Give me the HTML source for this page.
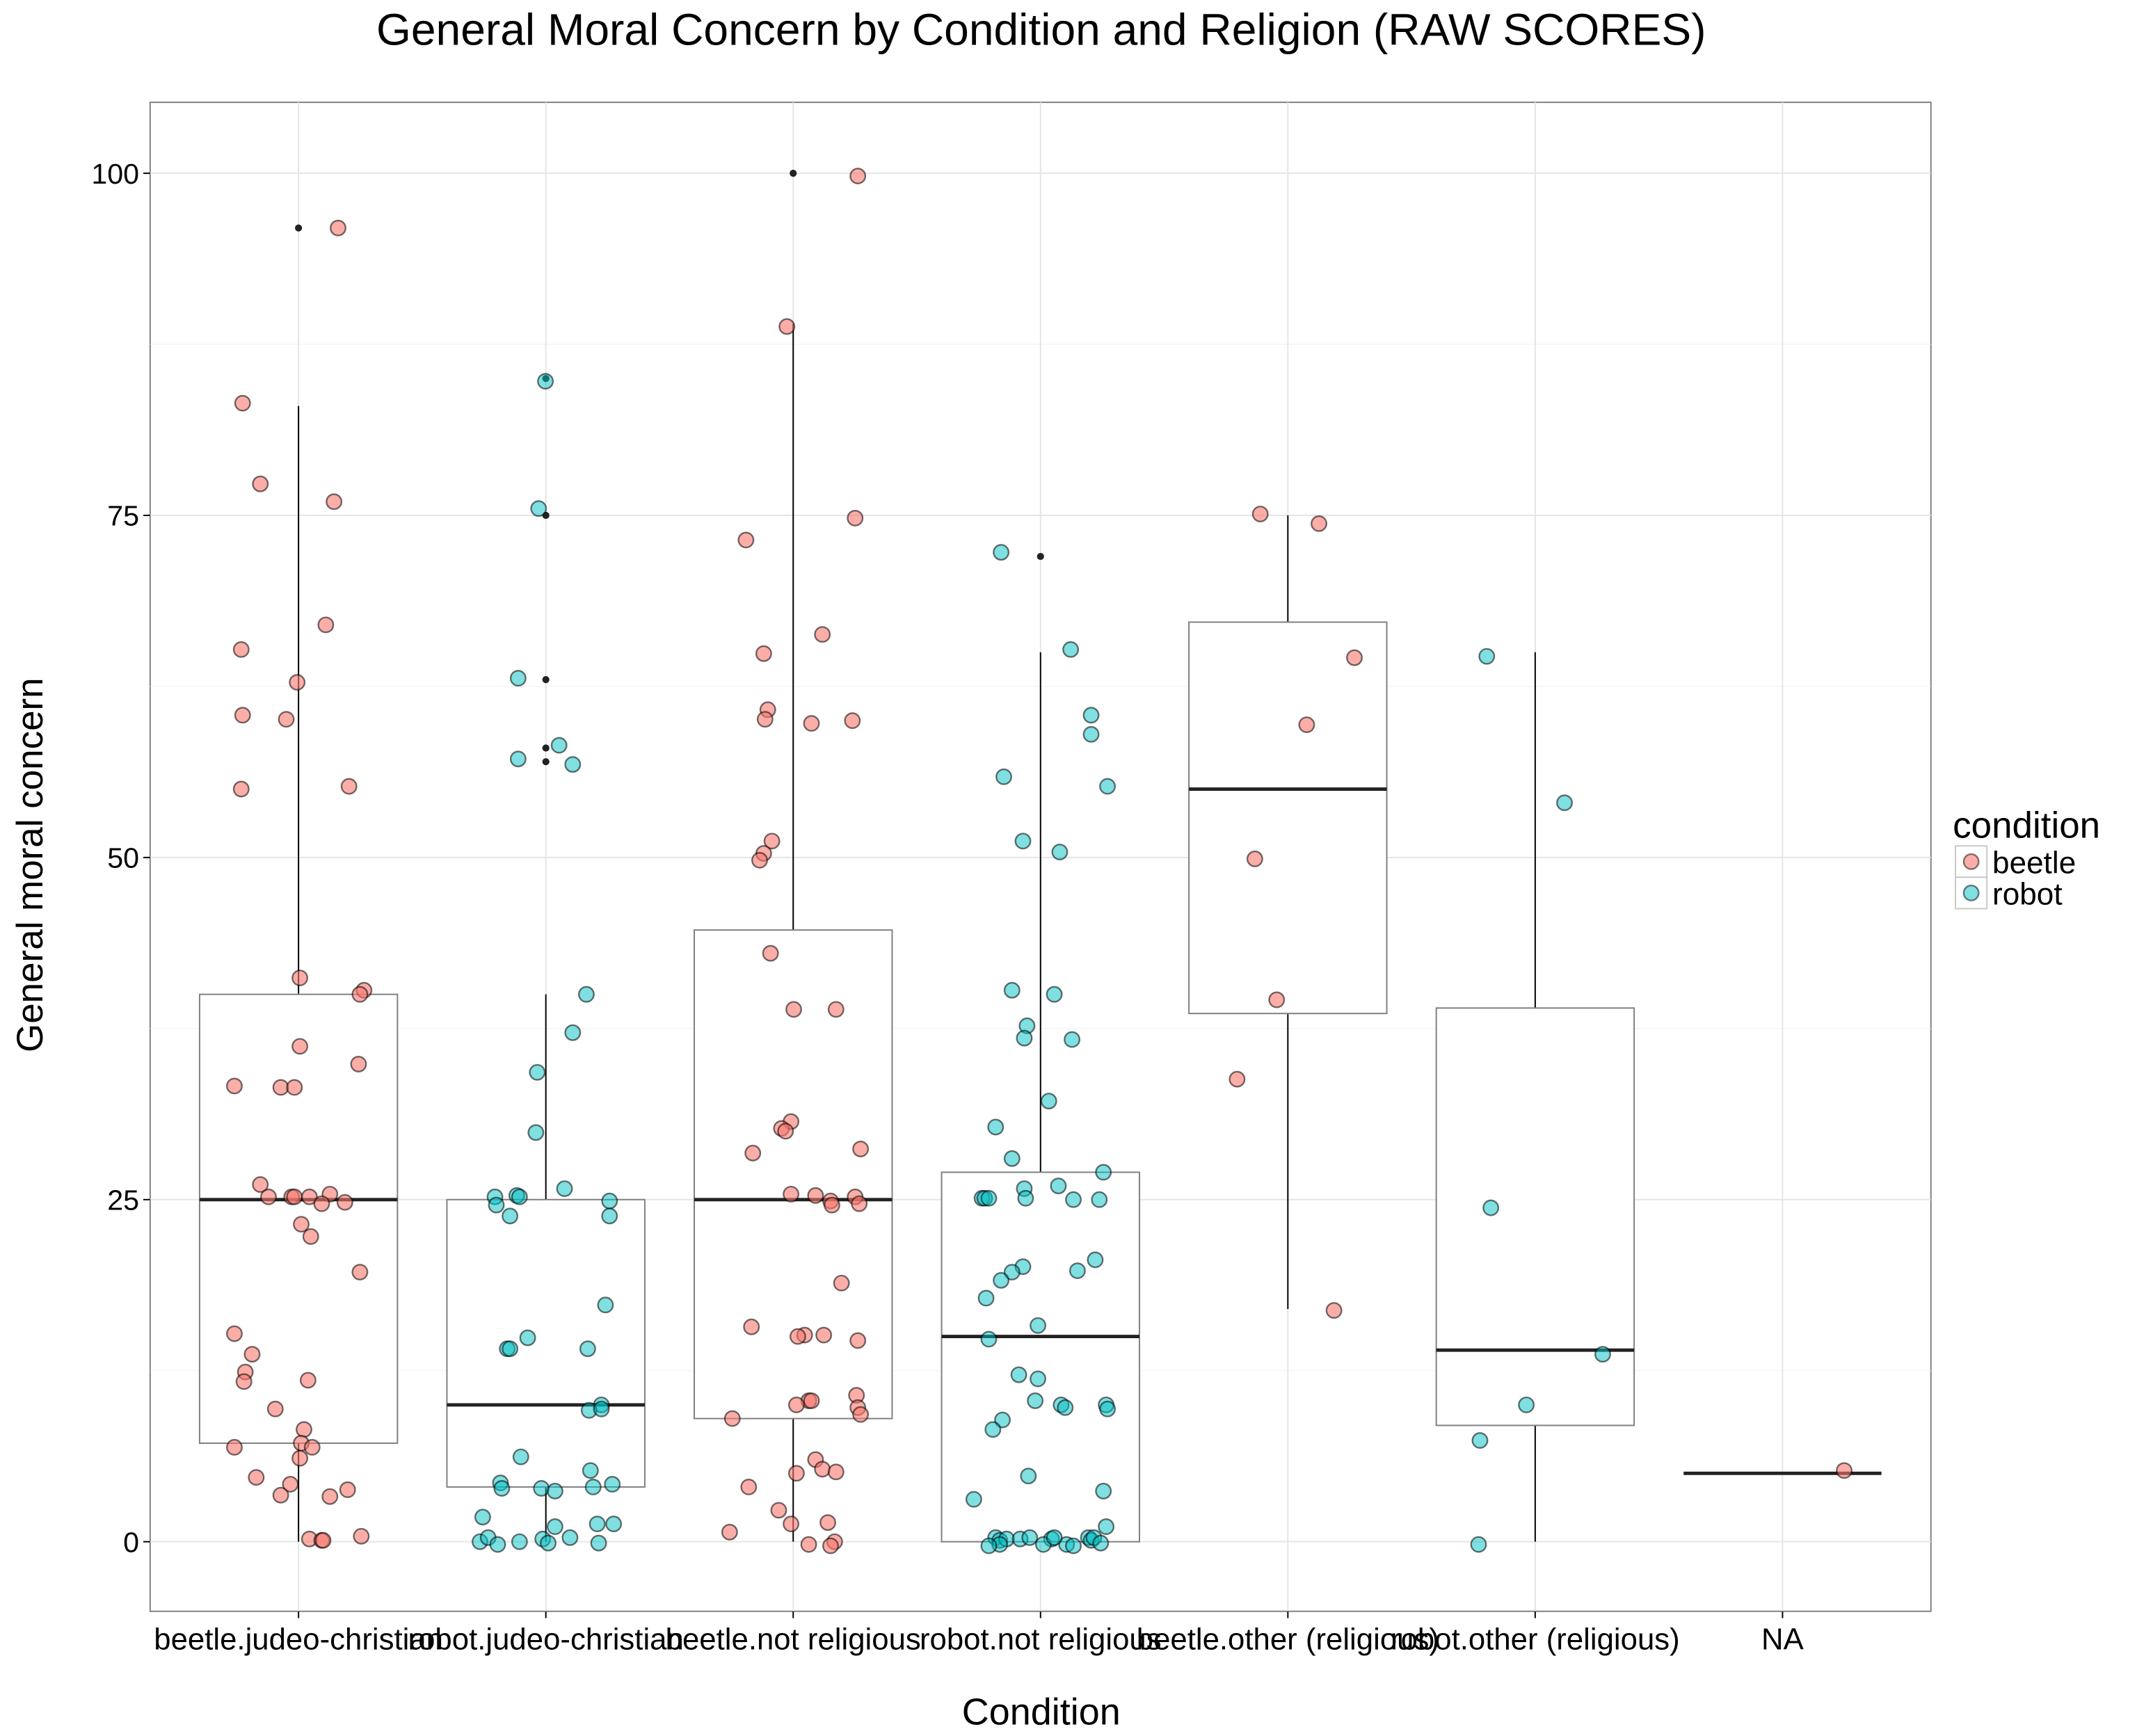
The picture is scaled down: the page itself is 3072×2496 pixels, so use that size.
<!DOCTYPE html>
<html><head><meta charset="utf-8"><style>
html,body{margin:0;padding:0;background:#fff;}
svg{display:block;font-family:"Liberation Sans",sans-serif;}
</style></head><body>
<svg id="chart" width="3072" height="2496" viewBox="0 0 1566 1272.4" xmlns="http://www.w3.org/2000/svg">
<rect width="1566" height="1272.4" fill="#fff"/>
<text x="763" y="33" font-size="32.7" text-anchor="middle">General Moral Concern by Condition and Religion (RAW SCORES)</text>
<rect x="110" y="75" width="1305" height="1106" fill="#fff" stroke="#7f7f7f" stroke-width="1"/>
<g id="grid"></g><g id="boxes"></g><g id="points"></g><g id="axes"></g>
<text x="763" y="1264" font-size="27.5" text-anchor="middle">Condition</text>
<text transform="translate(31,634) rotate(-90)" font-size="27" text-anchor="middle">General moral concern</text>
<g>
<text x="1431" y="614" font-size="27">condition</text>
<rect x="1433" y="620" width="23" height="23" fill="#fff" stroke="#c8c8c8"/>
<circle cx="1444.5" cy="631.5" r="5.5" fill="rgba(248,118,109,0.6)" stroke="rgba(0,0,0,0.5)" stroke-width="1.2"/>
<rect x="1433" y="643" width="23" height="23" fill="#fff" stroke="#c8c8c8"/>
<circle cx="1444.5" cy="654.5" r="5.5" fill="rgba(0,191,196,0.5)" stroke="rgba(0,0,0,0.5)" stroke-width="1.2"/>
<text x="1460" y="640" font-size="22.5">beetle</text>
<text x="1460" y="663" font-size="22.5">robot</text>
</g>
</svg>
<script>
const categories=["beetle.judeo-christian","robot.judeo-christian","beetle.not religious","robot.not religious","beetle.other (religious)","robot.other (religious)","NA"];
const conditions=["beetle","robot","beetle","robot","beetle","robot","beetle"];
const yTicks=[0,25,50,75,100];
const boxLow=[0,0,0,0,17,0,5];
const boxQ1=[7.2,4,9,0,38.6,8.5,5];
const boxMed=[25,10,25,15,55,14,5];
const boxQ3=[40,25,44.7,27,67.2,39,5];
const boxHigh=[83,40,89,65,75,65,5];
const outliers=[[96],[85,75,63,58,57],[100],[72],[],[],[]];
const g1=[[248,96],[178,83.2],[191,77.3],[245,76],[239,67],[177,65.2],[218,62.8],[178,60.4],[210,60.1],[177,55],[256,55.2],[220,41.2],[267,40.3],[264,40],[220,36.2],[263,34.9],[172,33.3],[206,33.2],[216,33.2],[191,26.1],[197,25.2],[214,25.2],[216,25.2],[227,25.2],[242,25.4],[236,24.7],[253,24.8],[221,23.2],[228,22.3],[264,19.7],[172,15.2],[180,12.4],[185,13.7],[179,11.7],[226,11.8],[202,9.7],[223,8.2],[221,7.2],[229,6.9],[172,6.9],[220,6.1],[188,4.7],[213,4.2],[255,3.8],[206,3.4],[242,3.3],[227,0.2],[236,0.1],[237,0.1],[265,0.4]];
const g2=[[400,84.8],[395,75.5],[380,63.1],[410,58.2],[380,57.2],[420,56.8],[430,40],[420,37.2],[394,34.3],[393,29.9],[414,25.8],[363,25.2],[379,25.3],[381,25.2],[364,24.6],[374,23.8],[447,24.9],[447,23.8],[444,17.3],[387,14.9],[372,14.1],[374,14.1],[431,14.1],[441,10],[432,9.6],[441,9.7],[382,6.2],[433,5.2],[367,4.3],[368,3.9],[397,3.9],[407,3.7],[435,4],[449,4.2],[398,0.2],[354,1.8],[407,1.1],[438,1.3],[450,1.3],[352,0],[358,0.3],[365,-0.2],[381,0],[402,-0.1],[418,0.3],[439,-0.1]];
const g3=[[629,99.8],[577,88.8],[627,74.8],[547,73.2],[603,66.3],[560,64.9],[563,60.8],[561,60.1],[595,59.8],[625,60],[566,51.2],[560,50.3],[557,49.8],[565,43],[582,38.9],[613,38.9],[580,30.7],[573,30.2],[576,30],[631,28.7],[552,28.4],[580,25.4],[598,25.3],[627,25.2],[609,24.9],[610,24.6],[630,24.7],[617,18.9],[551,15.7],[590,15.1],[604,15.1],[585,15],[629,14.7],[593,10.3],[595,10.3],[584,10],[628,10.7],[629,9.8],[631,9.3],[537,9],[598,6],[603,5.3],[613,5.1],[584,5],[549,4],[571,2.3],[607,1.4],[580,1.3],[535,0.7],[593,-0.2],[612,0],[609,-0.3]];
const g4=[[734,72.3],[785,65.2],[800,60.4],[800,59],[812,55.2],[736,55.9],[750,51.2],[777,50.4],[742,40.3],[773,40],[753,37.7],[751,36.8],[786,36.7],[769,32.2],[730,30.3],[742,28],[809,27],[776,26],[751,25.8],[720,25.1],[722,25.1],[725,25.1],[752,25.1],[787,25],[806,25],[803,20.6],[750,20.1],[742,19.7],[790,19.8],[734,19.1],[723,17.8],[761,15.8],[725,14.8],[747,12.2],[761,11.9],[759,10.3],[778,10],[781,9.8],[811,10],[812,9.7],[735,8.9],[728,8.2],[754,4.8],[809,3.7],[714,3.1],[811,1.1],[730,0.3],[733,0.1],[738,0.2],[748,0.2],[755,0.3],[771,0.2],[733,-0.2],[725,-0.3],[765,-0.2],[782,-0.2],[787,-0.3],[798,0.3],[800,0.1],[802,0.3],[807,-0.1],[773,0.3]];
const g5=[[924,75.1],[967,74.4],[993,64.6],[958,59.7],[920,49.9],[936,39.6],[907,33.8],[978,16.9]];
const g6=[[1090,64.7],[1147,54],[1093,24.4],[1175,13.7],[1119,10],[1085,7.4],[1084,-0.2]];
const g7=[[1352,5.2]];
const groups=[g1,g2,g3,g4,g5,g6,g7];

const NS="http://www.w3.org/2000/svg";
const L=110,R=1415,T=75,B=1181;
const step=(R-L)/(categories.length+0.2);
function xScale(i){return L+step*(i+0.6);}
function yScale(v){return 1130-v*(1130-127)/100;}
function mk(tag,attrs,parent){const e=document.createElementNS(NS,tag);for(const k in attrs)e.setAttribute(k,attrs[k]);parent.appendChild(e);return e;}
const grid=document.getElementById('grid'),boxes=document.getElementById('boxes'),pts=document.getElementById('points'),axes=document.getElementById('axes');
for(let i=0;i<yTicks.length;i++){const y=yScale(yTicks[i]);
 const l=mk('line',{x1:L,x2:R,y1:y,y2:y,stroke:'#e5e5e5','stroke-width':1},grid);
 
 
 if(i<yTicks.length-1){const ym=yScale((yTicks[i]+yTicks[i+1])/2);
 const m=mk('line',{x1:L,x2:R,y1:ym,y2:ym,stroke:'#f2f2f2','stroke-width':0.6},grid);
 
 }
 const t=mk('line',{x1:L-5,x2:L,y1:y,y2:y,stroke:'#000','stroke-width':1},axes);
 
 
 const tx=mk('text',{x:L-8,y:y+7.5,'font-size':21,'text-anchor':'end'},axes);tx.textContent=yTicks[i];
 
 }
for(let i=0;i<categories.length;i++){const x=xScale(i);
 const l=mk('line',{x1:x,x2:x,y1:T,y2:B,stroke:'#e5e5e5','stroke-width':1},grid);
 
 
 const t=mk('line',{x1:x,x2:x,y1:B,y2:B+5,stroke:'#000','stroke-width':1},axes);
 
 
 const tx=mk('text',{x:x,y:B+28,'font-size':22.3,'text-anchor':'middle'},axes);tx.textContent=categories[i];
 
 }
const hw=step*0.4;
for(let i=0;i<categories.length;i++){const x=xScale(i);
 const g=mk('g',{},boxes);
 
 
 mk('line',{x1:x,x2:x,y1:yScale(boxQ3[i]),y2:yScale(boxHigh[i]),stroke:'#000','stroke-width':1},g);
 mk('line',{x1:x,x2:x,y1:yScale(boxQ1[i]),y2:yScale(boxLow[i]),stroke:'#000','stroke-width':1},g);
 if(boxQ3[i]>boxQ1[i])mk('rect',{x:x-hw,y:yScale(boxQ3[i]),width:2*hw,height:yScale(boxQ1[i])-yScale(boxQ3[i]),fill:'#fff',stroke:'#7f7f7f','stroke-width':1},g);
 mk('line',{x1:x-hw,x2:x+hw,y1:yScale(boxMed[i]),y2:yScale(boxMed[i]),stroke:'#222','stroke-width':2.5},g);
 for(const o of outliers[i]){const c=mk('circle',{cx:x,cy:yScale(o),r:2.6,fill:'#222'},g);
  
  }}
const refCenters0=219,refStep=181.3;
for(let i=0;i<groups.length;i++){const beetle=conditions[i]==='beetle';
 for(const p of groups[i]){const off=(p[0]-(refCenters0+refStep*i))/refStep;
  const c=mk('circle',{cx:xScale(i)+off*step,cy:yScale(p[1]),r:5.5,fill:beetle?'rgba(248,118,109,0.6)':'rgba(0,191,196,0.5)',stroke:'rgba(0,0,0,0.55)','stroke-width':1.2},pts);
  
  }}
</script>
</body></html>
